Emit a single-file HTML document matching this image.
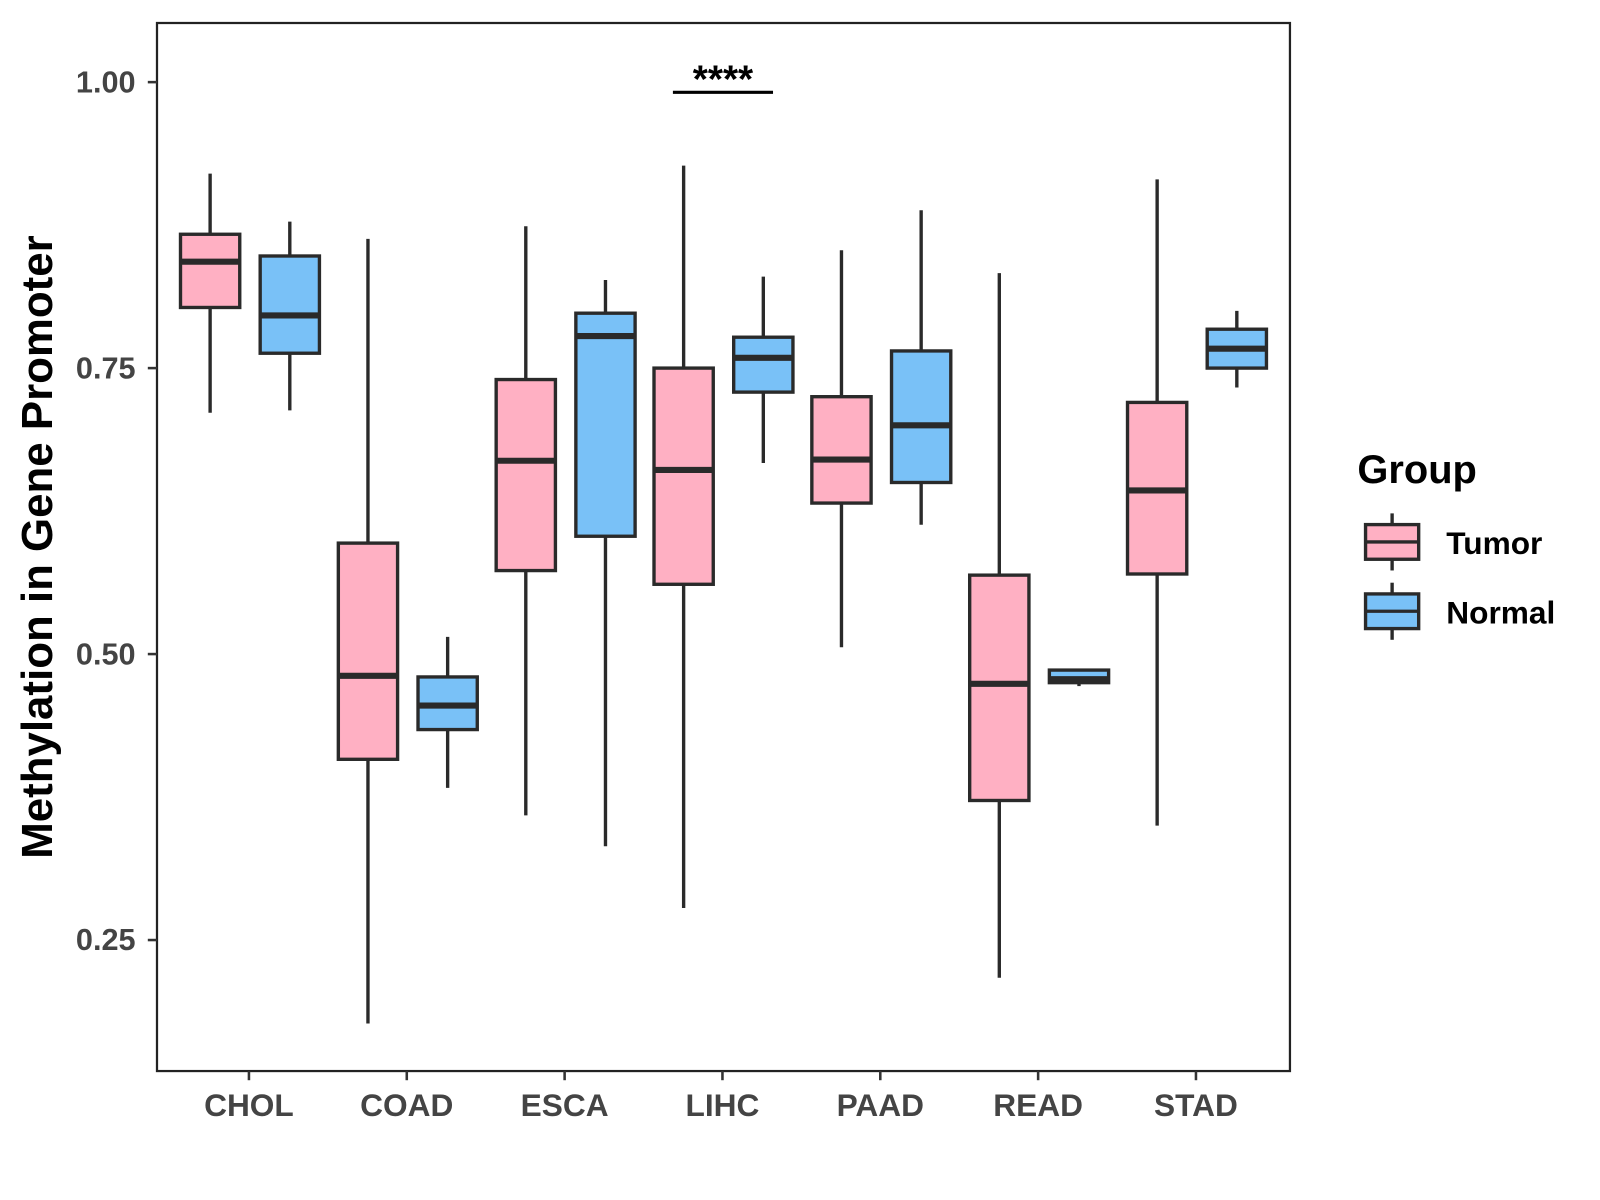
<!DOCTYPE html>
<html><head><meta charset="utf-8"><style>
html,body{margin:0;padding:0;background:#fff;}
svg{display:block;font-family:"Liberation Sans",sans-serif;font-weight:bold;}
</style></head><body>
<svg id="chart" width="1600" height="1200" viewBox="0 0 1600 1200">
<rect x="0" y="0" width="1600" height="1200" fill="#fff"/>
<g transform="translate(-1.35,0.57) scale(1.0216,1.0195)">
<rect x="155" y="22" width="1109" height="1028" fill="#fff" stroke="#222" stroke-width="2.2"/>
<g id="marks"></g>
<g id="axes"></g>
<text x="38" y="536" transform="rotate(-90 38 536)" text-anchor="middle" dominant-baseline="central" font-size="43" fill="#000">Methylation in Gene Promoter</text>
<g>
<line x1="660" y1="90" x2="758" y2="90" stroke="#000" stroke-width="3"/>
<text x="709" y="90" text-anchor="middle" font-size="38" fill="#000">****</text>
</g>
<g>
<text x="1330" y="473" font-size="39" fill="#000">Group</text>
<g>
<line x1="1364" y1="503" x2="1364" y2="559" stroke="#2a2a2a" stroke-width="3.3"/>
<rect x="1338" y="514" width="52" height="34" fill="#FFB0C3" stroke="#2a2a2a" stroke-width="3.3"/>
<line x1="1338" y1="531" x2="1390" y2="531" stroke="#2a2a2a" stroke-width="3.3"/>
<text x="1417" y="543" font-size="31" fill="#000">Tumor</text>
</g>
<g>
<line x1="1364" y1="571" x2="1364" y2="627" stroke="#2a2a2a" stroke-width="3.3"/>
<rect x="1338" y="582" width="52" height="34" fill="#79C1F7" stroke="#2a2a2a" stroke-width="3.3"/>
<line x1="1338" y1="599" x2="1390" y2="599" stroke="#2a2a2a" stroke-width="3.3"/>
<text x="1417" y="611" font-size="31" fill="#000">Normal</text>
</g>
</g>
</g>
</svg>
<script>
const categories = ["CHOL","COAD","ESCA","LIHC","PAAD","READ","STAD"];
const yTicks = [0.25,0.50,0.75,1.00];
const yTickLabels = ["0.25","0.50","0.75","1.00"];
// [lower whisker, Q1, median, Q3, upper whisker]
const tumorStats = [
 [0.711,0.803,0.843,0.867,0.920],
 [0.177,0.408,0.481,0.597,0.863],
 [0.359,0.573,0.669,0.740,0.874],
 [0.278,0.561,0.661,0.750,0.927],
 [0.506,0.632,0.670,0.725,0.853],
 [0.217,0.372,0.474,0.569,0.833],
 [0.350,0.570,0.643,0.720,0.915]
];
const normalStats = [
 [0.713,0.763,0.796,0.848,0.878],
 [0.383,0.434,0.455,0.480,0.515],
 [0.332,0.603,0.778,0.798,0.827],
 [0.667,0.729,0.759,0.777,0.830],
 [0.613,0.650,0.700,0.765,0.888],
 [0.472,0.475,0.478,0.486,0.486],
 [0.733,0.750,0.767,0.784,0.800]
];
const NS="http://www.w3.org/2000/svg";
function yScale(v){return 80+(1-v)*1122;}
function xScale(i){return 245+i*154.5;}
function mk(tag,attrs,parent){const e=document.createElementNS(NS,tag);for(const k in attrs)e.setAttribute(k,attrs[k]);parent.appendChild(e);return e;}
const marks=document.getElementById('marks');
const axes=document.getElementById('axes');
function drawBox(s,cx,fill,name){
  const g=mk('g',{},marks);
  
  
  const st={stroke:'#2a2a2a','stroke-width':3.3};
  mk('line',Object.assign({x1:cx,x2:cx,y1:yScale(s[4]),y2:yScale(s[0])},st),g);
  mk('rect',Object.assign({x:cx-29,width:58,y:yScale(s[3]),height:yScale(s[1])-yScale(s[3]),fill:fill},st),g);
  mk('line',{x1:cx-29,x2:cx+29,y1:yScale(s[2]),y2:yScale(s[2]),stroke:'#2a2a2a','stroke-width':6},g);
}
categories.forEach((c,i)=>{
  drawBox(tumorStats[i],xScale(i)-38,'#FFB0C3','box-tumor-'+c.toLowerCase());
  drawBox(normalStats[i],xScale(i)+40,'#79C1F7','box-normal-'+c.toLowerCase());
  const t=mk('line',{x1:xScale(i),x2:xScale(i),y1:1050,y2:1059,stroke:'#333','stroke-width':2.5},axes);
  
  
  const l=mk('text',{x:xScale(i),y:1094,'text-anchor':'middle','font-size':31,fill:'#444'},axes);
  l.textContent=c;
  
  
});
yTicks.forEach((v,i)=>{
  const t=mk('line',{x1:146,x2:155,y1:yScale(v),y2:yScale(v),stroke:'#333','stroke-width':2.5},axes);
  
  
  const l=mk('text',{x:134,y:yScale(v)+10,'text-anchor':'end','font-size':30,fill:'#444'},axes);
  l.textContent=yTickLabels[i];
  
  
});
</script>
</body></html>
